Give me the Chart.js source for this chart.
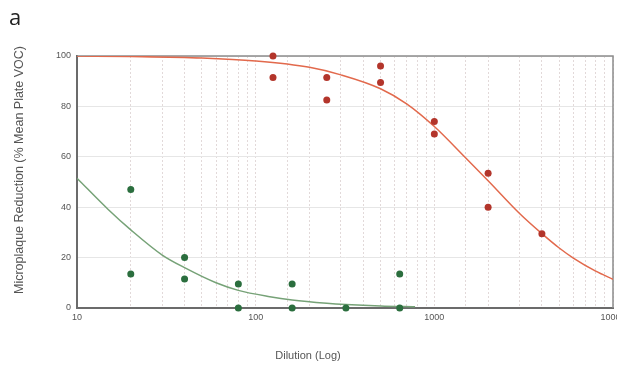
<!DOCTYPE html>
<html>
<head>
<meta charset="utf-8">
<script src="https://cdn.jsdelivr.net/npm/chart.js@4.4.1/dist/chart.umd.min.js"></script>
<style>
  body { margin: 0; background: #fff; }
  #wrap { width: 617px; height: 371px; }
</style>
</head>
<body>
<div id="wrap"><canvas id="myChart"></canvas></div>
<script>
// puntos medidos
const redX = [125, 125, 250, 250, 500, 500, 1000, 1000, 2000, 2000, 4000];
const redY = [100, 91.5, 91.5, 82.5, 96, 89.5, 74, 69, 53.5, 40, 29.5];
const greenX = [20, 20, 40, 40, 80, 80, 160, 160, 320, 640, 640];
const greenY = [47, 13.5, 20, 11.5, 9.5, 0, 9.5, 0, 0, 13.5, 0];

// curvas ajustadas
const redFitX = [10, 20, 50, 100, 200, 300, 500, 700, 1000, 1500, 2000, 3000, 4000, 5000, 6000, 8000, 10000];
const redFitY = [100, 99.8, 99.2, 98, 95.5, 92.5, 87, 81, 72, 59.5, 50.5, 37.5, 29.5, 23.8, 19.8, 14.6, 11.4];
const greenFitX = [10, 15, 20, 30, 40, 60, 80, 120, 160, 250, 320, 500, 780];
const greenFitY = [51.5, 39, 31, 21, 16, 10, 7, 4.5, 3.2, 1.9, 1.4, 0.8, 0.5];

const xTickLabels = [10, 100, 1000, 10000];
const yTickLabels = [0, 20, 40, 60, 80, 100];

const xTitle = 'Dilution (Log)';
const yTitle = 'Microplaque Reduction (% Mean Plate VOC)';

const pts = (xs, ys) => xs.map((x, i) => ({ x: x, y: ys[i] }));
const fontFam = '"Liberation Sans", Arial, sans-serif';

// marco y títulos de ejes
const extras = {
  id: 'extras',
  beforeDatasetsDraw(chart) {
    const a = chart.chartArea;
    const c = chart.ctx;
    c.save();
    c.strokeStyle = '#8c8c8c';
    c.lineWidth = 1.5;
    c.beginPath();
    c.moveTo(a.left, a.top);
    c.lineTo(a.right, a.top);
    c.lineTo(a.right, a.bottom);
    c.stroke();
    c.restore();
  },
  afterDraw(chart) {
    const c = chart.ctx;
    c.save();
    c.fillStyle = '#555';
    c.textAlign = 'center';
    c.textBaseline = 'middle';
    c.font = '11px ' + fontFam;
    c.fillText(xTitle, 308, 356);
    c.translate(20, 170);
    c.rotate(-Math.PI / 2);
    c.font = '12.5px ' + fontFam;
    c.fillText(yTitle, 0, 0);
    c.restore();
  }
};

const ctx = document.getElementById('myChart').getContext('2d');
const myChart = new Chart(ctx, {
  type: 'scatter',
  data: {
    datasets: [{
      label: 'Ajuste rojo',
      data: pts(redFitX, redFitY),
      showLine: true,
      pointRadius: 0,
      borderColor: '#e2694c',
      borderWidth: 1.5,
      cubicInterpolationMode: 'monotone',
      order: 3
    }, {
      label: 'Ajuste verde',
      data: pts(greenFitX, greenFitY),
      showLine: true,
      pointRadius: 0,
      borderColor: '#76a277',
      borderWidth: 1.5,
      cubicInterpolationMode: 'monotone',
      order: 4
    }, {
      label: 'Rojo',
      data: pts(redX, redY),
      pointRadius: 3.5,
      pointBackgroundColor: '#b3352b',
      pointBorderWidth: 0,
      clip: false,
      order: 1
    }, {
      label: 'Verde',
      data: pts(greenX, greenY),
      pointRadius: 3.5,
      pointBackgroundColor: '#2b6e3e',
      pointBorderWidth: 0,
      clip: false,
      order: 2
    }]
  },
  options: {
    responsive: true,
    maintainAspectRatio: false,
    animation: false,
    layout: { padding: { left: 9, right: 3, top: 0, bottom: 0 } },
    scales: {
      x: {
        type: 'logarithmic',
        min: 10,
        max: 10000,
        grid: { color: '#e2d9d9', lineWidth: 1, drawTicks: false },
        border: { color: '#6b6b6b', width: 2, dash: [2, 2] },
        ticks: {
          autoSkip: false,
          maxRotation: 0,
          padding: 4,
          color: '#555',
          font: { family: fontFam, size: 9 },
          callback: (v) => xTickLabels.includes(v) ? String(v) : ''
        },
        afterFit: (s) => { s.height = 63; s.paddingLeft = 0; s.paddingRight = 0; }
      },
      y: {
        min: 0,
        max: 100,
        grid: { color: '#e6e6e6', lineWidth: 1, drawTicks: false },
        border: { color: '#6b6b6b', width: 2 },
        ticks: {
          stepSize: 20,
          padding: 6,
          color: '#555',
          font: { family: fontFam, size: 9 },
          callback: (v) => yTickLabels.includes(v) ? String(v) : ''
        },
        afterFit: (s) => { s.width = 68; }
      }
    },
    plugins: {
      legend: { display: false },
      tooltip: { enabled: false },
      title: {
        display: true,
        text: 'a',
        align: 'start',
        color: '#222',
        font: { family: '"Open Sans", sans-serif', size: 22, weight: 'normal' },
        padding: { top: 6, bottom: 23.6 }
      }
    }
  },
  plugins: [extras]
});
</script>
</body>
</html>
